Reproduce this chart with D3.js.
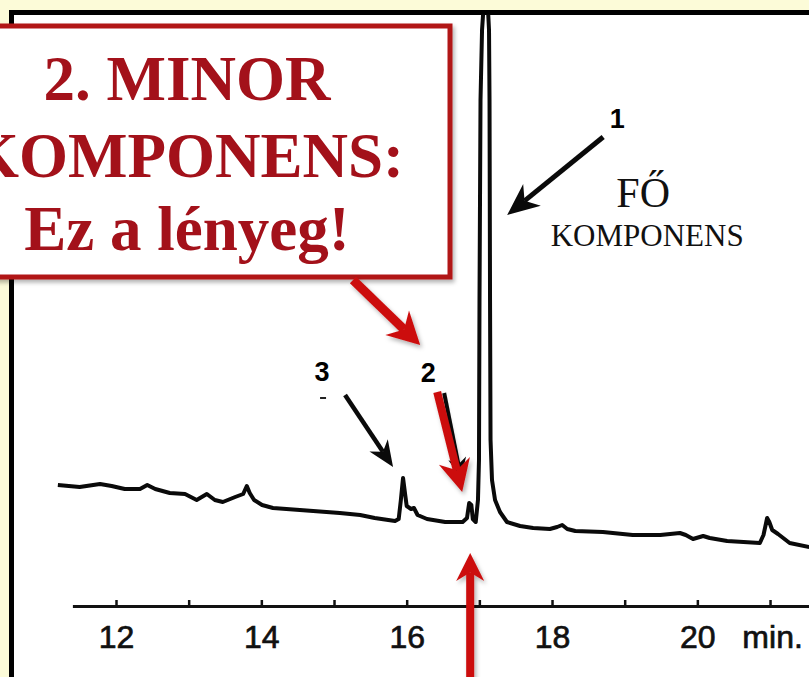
<!DOCTYPE html>
<html>
<head>
<meta charset="utf-8">
<script src="https://cdn.jsdelivr.net/npm/d3@7"></script>
<style>
  body { margin: 0; background: #fcfbd8; }
  svg { display: block; }
</style>
</head>
<body>
<svg id="chart"></svg>
<script>
// retention time (min) and detector signal
const retentionTime = [
  11.20, 11.50, 11.78, 11.94, 12.12, 12.33, 12.43, 12.54, 12.74, 12.95,
  13.11, 13.25, 13.36, 13.47, 13.64, 13.75, 13.80, 13.84, 13.90, 14.01,
  14.16, 14.53, 15.08, 15.36, 15.56, 15.84, 15.89, 15.92, 15.95, 15.98,
  16.00, 16.06, 16.10, 16.15, 16.28, 16.53, 16.77, 16.83, 16.86, 16.89,
  16.91, 16.95, 16.981, 16.995, 17.002, 17.016, 17.037, 17.092, 17.133, 17.140,
  17.147, 17.154, 17.174, 17.216, 17.284, 17.38, 17.56, 17.74, 17.97, 18.07,
  18.14, 18.21, 18.32, 18.70, 19.11, 19.49, 19.76, 19.84, 19.94, 20.08,
  20.17, 20.41, 20.86, 20.91, 20.96, 20.99, 21.03, 21.11, 21.27, 21.54
];
const detectorSignal = [
  14.0, 13.6, 14.2, 13.8, 13.2, 13.2, 14.0, 13.2, 12.4, 12.2,
  11.0, 12.2, 11.0, 10.6, 11.6, 12.2, 13.8, 12.4, 11.0, 10.0,
  9.4, 9.0, 8.4, 8.0, 7.4, 6.8, 7.2, 11.0, 15.4, 12.0,
  9.8, 9.2, 9.4, 8.0, 7.2, 6.6, 6.6, 7.4, 10.4, 10.0,
  7.2, 6.6, 11.0, 19.0, 51.0, 91.0, 105.0, 117.0, 105.0, 91.0,
  51.0, 23.0, 15.0, 11.0, 8.6, 6.6, 5.8, 5.4, 5.2, 5.6,
  6.0, 5.2, 4.8, 4.6, 4.0, 4.0, 4.4, 4.0, 3.2, 3.8,
  3.4, 2.8, 2.4, 4.0, 7.4, 6.6, 5.0, 4.2, 2.4, 1.6
];

const tickMinutes = [12, 13, 14, 15, 16, 17, 18, 19, 20, 21];
const labelledMinutes = [12, 14, 16, 18, 20];
const axisUnit = 'min.';

// numbered peaks: 1 = main component, 2 = minor, 3
const peakNumbers = ['1', '2', '3'];
const peakTimes = [17.08, 16.86, 15.95];
const peakHeights = [117.0, 10.4, 15.4];

const boxLines = ['2. MINOR', 'KOMPONENS:', 'Ez a lényeg!'];
const mainLabel = ['FŐ', 'KOMPONENS'];

const width = 809, height = 677;
const svg = d3.select('#chart').attr('width', width).attr('height', height);

const defs = svg.append('defs');
defs.append('clipPath').attr('id', 'plotClip')
  .append('rect').attr('x', 14).attr('y', 14.5).attr('width', 800).attr('height', 700);
const shadow = defs.append('filter').attr('id', 'shadow')
  .attr('x', '-20%').attr('y', '-20%').attr('width', '140%').attr('height', '140%');
shadow.append('feDropShadow').attr('dx', 2).attr('dy', 3).attr('stdDeviation', 2)
  .attr('flood-color', '#000').attr('flood-opacity', 0.3);

// background and frame
svg.append('rect').attr('width', width).attr('height', height).attr('fill', '#fcfbd8');
svg.append('rect')
  .attr('x', 11.5).attr('y', 12.5).attr('width', 830).attr('height', 700)
  .attr('fill', '#ffffff').attr('stroke', '#000').attr('stroke-width', 5);

const x = d3.scaleLinear().domain([11.4, 21.55]).range([72.4, 810]);
const y = d3.scaleLinear().domain([0, 110]).range([555, 5]);

// time axis, ticks pointing up
const axisG = svg.append('g')
  .attr('transform', 'translate(0,606)')
  .call(d3.axisBottom(x)
    .tickValues(tickMinutes)
    .tickSizeInner(-6)
    .tickSizeOuter(0)
    .tickPadding(19)
    .tickFormat(d => labelledMinutes.includes(d) ? d : ''));
axisG.select('.domain').attr('stroke', '#111').attr('stroke-width', 3.2);
axisG.selectAll('.tick line').attr('stroke', '#111').attr('stroke-width', 2.5);
axisG.selectAll('.tick text')
  .attr('fill', '#111')
  .attr('stroke', '#111').attr('stroke-width', 0.7)
  .style('font-family', '"Liberation Sans", Arial, sans-serif')
  .style('font-size', '32px');
axisG.append('text')
  .attr('x', x(20) + 45).attr('y', 42)
  .attr('text-anchor', 'start')
  .attr('fill', '#111')
  .attr('stroke', '#111').attr('stroke-width', 0.7)
  .style('font-family', '"Liberation Sans", Arial, sans-serif')
  .style('font-size', '32px')
  .text(axisUnit);

// chromatogram trace
const trace = retentionTime.map((t, i) => [t, detectorSignal[i]]);
const line = d3.line().x(d => x(d[0])).y(d => y(d[1])).curve(d3.curveLinear);
svg.append('path')
  .datum(trace)
  .attr('clip-path', 'url(#plotClip)')
  .attr('d', line)
  .attr('fill', 'none')
  .attr('stroke', '#0a0a0a')
  .attr('stroke-width', 4)
  .attr('stroke-linejoin', 'round');

// arrow helper: shaft + notched head
function arrow(g, x1, y1, x2, y2, color, w, headLen, headHalf) {
  const ang = Math.atan2(y2 - y1, x2 - x1);
  const ux = Math.cos(ang), uy = Math.sin(ang);
  const bx = x2 - ux * headLen, by = y2 - uy * headLen;
  const nx = x2 - ux * headLen * 0.7, ny = y2 - uy * headLen * 0.7;
  g.append('line')
    .attr('x1', x1).attr('y1', y1).attr('x2', nx).attr('y2', ny)
    .attr('stroke', color).attr('stroke-width', w).attr('stroke-linecap', 'butt');
  const pts = [
    [x2, y2],
    [bx - uy * headHalf, by + ux * headHalf],
    [nx, ny],
    [bx + uy * headHalf, by - ux * headHalf]
  ];
  g.append('polygon').attr('points', pts.map(p => p.join(',')).join(' ')).attr('fill', color);
}

const ann = svg.append('g');
const numFont = '"Liberation Sans", Arial, sans-serif';

// peak 3
const p3x = x(peakTimes[2]), p3y = y(peakHeights[2]);
arrow(ann, p3x - 58, p3y - 83, p3x - 10, p3y - 11, '#0a0a0a', 4.5, 26, 11);
ann.append('text').attr('x', p3x - 81).attr('y', p3y - 97)
  .attr('text-anchor', 'middle').style('font-family', numFont)
  .style('font-size', '27px').style('font-weight', 'bold').text(peakNumbers[2]);
ann.append('line').attr('x1', p3x - 83).attr('x2', p3x - 77)
  .attr('y1', p3y - 80).attr('y2', p3y - 80).attr('stroke', '#222').attr('stroke-width', 2);

// peak 2 (black arrow under the red one)
const p2x = x(peakTimes[1]), p2y = y(peakHeights[1]);
arrow(ann, p2x - 25, p2y - 110, p2x - 8, p2y - 25, '#0a0a0a', 4, 20, 9);
ann.append('text').attr('x', p2x - 41).attr('y', p2y - 121)
  .attr('text-anchor', 'middle').style('font-family', numFont)
  .style('font-size', '27px').style('font-weight', 'bold').text(peakNumbers[1]);

// peak 1
const p1x = x(peakTimes[0]);
arrow(ann, p1x + 118, 137, p1x + 22, 215, '#0a0a0a', 5, 32, 14);
ann.append('text').attr('x', p1x + 132).attr('y', 128)
  .attr('text-anchor', 'middle').style('font-family', numFont)
  .style('font-size', '27px').style('font-weight', 'bold').text(peakNumbers[0]);
ann.append('text').attr('x', p1x + 158).attr('y', 207)
  .attr('text-anchor', 'middle').style('font-family', '"Liberation Serif", "Times New Roman", serif')
  .style('font-size', '42px').attr('fill', '#111').text(mainLabel[0]);
ann.append('text').attr('x', p1x + 162).attr('y', 246)
  .attr('text-anchor', 'middle').style('font-family', '"Liberation Serif", "Times New Roman", serif')
  .style('font-size', '31px').attr('fill', '#111').text(mainLabel[1]);

// red callout box
const red = '#cc1010';
const boxG = svg.append('g');
boxG.append('rect')
  .attr('x', -10).attr('y', 26).attr('width', 460).attr('height', 251)
  .attr('fill', '#fff').attr('stroke', '#b11218').attr('stroke-width', 5)
  .attr('filter', 'url(#shadow)');
boxG.selectAll('text.box')
  .data(boxLines)
  .enter().append('text')
  .attr('class', 'box')
  .attr('x', 187)
  .attr('y', (d, i) => [100, 177, 250][i])
  .attr('text-anchor', 'middle')
  .attr('fill', '#a3111a')
  .style('font-family', '"Liberation Serif", "Times New Roman", serif')
  .style('font-weight', 'bold')
  .style('font-size', '63px')
  .text(d => d);

// red arrows pointing at the minor component
const redG = svg.append('g').attr('filter', 'url(#shadow)');
arrow(redG, 353, 280, p2x - 49, p2y - 158, red, 9, 32, 17);
arrow(redG, p2x - 32, p2y - 111, p2x - 7, p2y - 11, red, 8, 32, 16);
arrow(redG, p2x + 1, 690, p2x + 1, 553, red, 8, 28, 14);
</script>
</body>
</html>
